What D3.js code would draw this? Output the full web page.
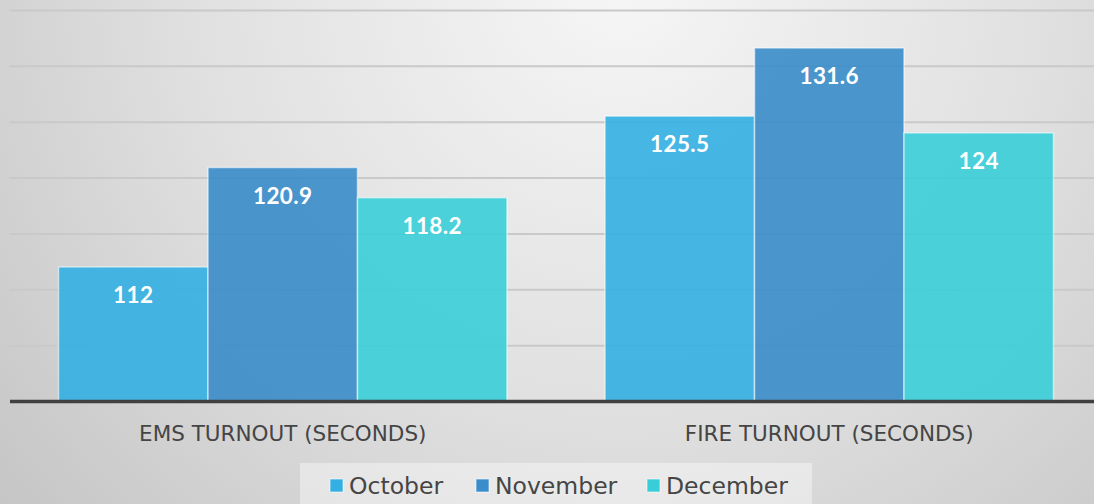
<!DOCTYPE html>
<html>
<head>
<meta charset="utf-8">
<script src="https://cdn.jsdelivr.net/npm/d3@7"></script>
<style>
  html, body { margin: 0; padding: 0; overflow: hidden; }
  svg { display: block; }
</style>
</head>
<body>
<div id="container"></div>
<script>
// data
const categories = ["EMS TURNOUT (SECONDS)", "FIRE TURNOUT (SECONDS)"];
const seriesNames = ["October", "November", "December"];
const october = [112, 125.5];
const november = [120.9, 131.6];
const december = [118.2, 124];
const yTicks = [100, 105, 110, 115, 120, 125, 130, 135];

// layout
const svgWidth = 1094;
const svgHeight = 504;
const plotLeft = 9.5;
const plotRight = 1102.5;
const plotTop = 10;
const plotBottom = 401;
const colors = ["#33afe2", "#3a8cca", "#38ced8"];

const seriesValues = [october, november, december];
const rows = categories.map((c, i) => ({
  category: c,
  values: seriesNames.map((s, j) => ({ series: s, index: j, value: seriesValues[j][i] }))
}));

const svg = d3.select("#container")
  .append("svg")
  .attr("width", svgWidth)
  .attr("height", svgHeight);

const defs = svg.append("defs");
const bg = defs.append("radialGradient")
  .attr("id", "bg")
  .attr("gradientUnits", "userSpaceOnUse")
  .attr("cx", 620).attr("cy", -20).attr("r", 860);
bg.append("stop").attr("offset", 0).attr("stop-color", "#f6f6f6");
bg.append("stop").attr("offset", 0.5).attr("stop-color", "#e0e0e0");
bg.append("stop").attr("offset", 1).attr("stop-color", "#c2c2c2");

const gridGrad = defs.append("linearGradient")
  .attr("id", "grid")
  .attr("gradientUnits", "userSpaceOnUse")
  .attr("x1", 0).attr("y1", plotTop).attr("x2", 0).attr("y2", plotBottom);
gridGrad.append("stop").attr("offset", 0).attr("stop-color", "#c9c9c9");
gridGrad.append("stop").attr("offset", 1).attr("stop-color", "#7c7c7c");

svg.append("rect")
  .attr("width", svgWidth)
  .attr("height", svgHeight)
  .attr("fill", "url(#bg)");

// scales
const x0 = d3.scaleBand()
  .domain(categories)
  .range([plotLeft, plotRight])
  .paddingInner(0)
  .paddingOuter(0);

const x1 = d3.scaleBand()
  .domain(seriesNames)
  .range([0, x0.bandwidth()])
  .paddingInner(0)
  .paddingOuter(0.328);

const y = d3.scaleLinear()
  .domain([100, 135])
  .range([plotBottom, plotTop]);

const color = d3.scaleOrdinal().domain(seriesNames).range(colors);

// gridlines
const grid = svg.append("g")
  .attr("transform", `translate(${plotLeft},0)`)
  .call(d3.axisLeft(y).tickValues(yTicks.slice(1)).tickSize(-(plotRight - plotLeft)).tickFormat(""));
grid.select(".domain").remove();
grid.selectAll(".tick line")
  .attr("stroke", "url(#grid)")
  .attr("stroke-width", 2);

// bars
const groups = svg.append("g")
  .selectAll("g")
  .data(rows)
  .join("g")
  .attr("transform", d => `translate(${x0(d.category)},0)`);

groups.selectAll("rect")
  .data(d => d.values)
  .join("rect")
  .attr("x", d => x1(d.series))
  .attr("y", d => y(d.value))
  .attr("width", x1.bandwidth())
  .attr("height", d => y(100) - y(d.value))
  .attr("fill", d => color(d.series))
  .attr("fill-opacity", 0.9)
  .attr("stroke", "rgba(255,255,255,0.55)")
  .attr("stroke-width", 1.5);

groups.selectAll("text")
  .data(d => d.values)
  .join("text")
  .attr("x", d => x1(d.series) + x1.bandwidth() / 2)
  .attr("y", d => y(d.value) + 36)
  .attr("text-anchor", "middle")
  .attr("font-family", "Lato, 'Open Sans', sans-serif")
  .attr("font-weight", "bold")
  .attr("font-size", 22.5)
  .attr("letter-spacing", 0.4)
  .attr("fill", "#ffffff")
  .text(d => d.value);

// category axis
const xAxis = svg.append("g")
  .attr("transform", `translate(0,${plotBottom})`)
  .call(d3.axisBottom(x0).tickSize(0).tickPadding(40));
xAxis.select(".domain")
  .attr("stroke", "#404040")
  .attr("stroke-width", 3.5);
xAxis.selectAll("text")
  .attr("font-family", "'DejaVu Sans', sans-serif")
  .attr("font-size", 21.5)
  .attr("fill", "#454545")
  .attr("dy", 0);

// legend
const legend = svg.append("g");
legend.append("rect")
  .attr("x", 300).attr("y", 463)
  .attr("width", 512).attr("height", 50)
  .attr("fill", "#ffffff")
  .attr("fill-opacity", 0.4);

const legendX = [330, 476, 647];
const items = legend.selectAll("g.item")
  .data(seriesNames)
  .join("g")
  .attr("class", "item")
  .attr("transform", (d, i) => `translate(${legendX[i]},479)`);

items.append("rect")
  .attr("width", 13).attr("height", 13)
  .attr("fill", d => color(d))
  .attr("stroke", "rgba(255,255,255,0.6)")
  .attr("stroke-width", 1);

items.append("text")
  .attr("x", 19)
  .attr("y", 15)
  .attr("font-family", "'DejaVu Sans', sans-serif")
  .attr("font-size", 23.5)
  .attr("fill", "#454545")
  .text(d => d);
</script>
</body>
</html>
